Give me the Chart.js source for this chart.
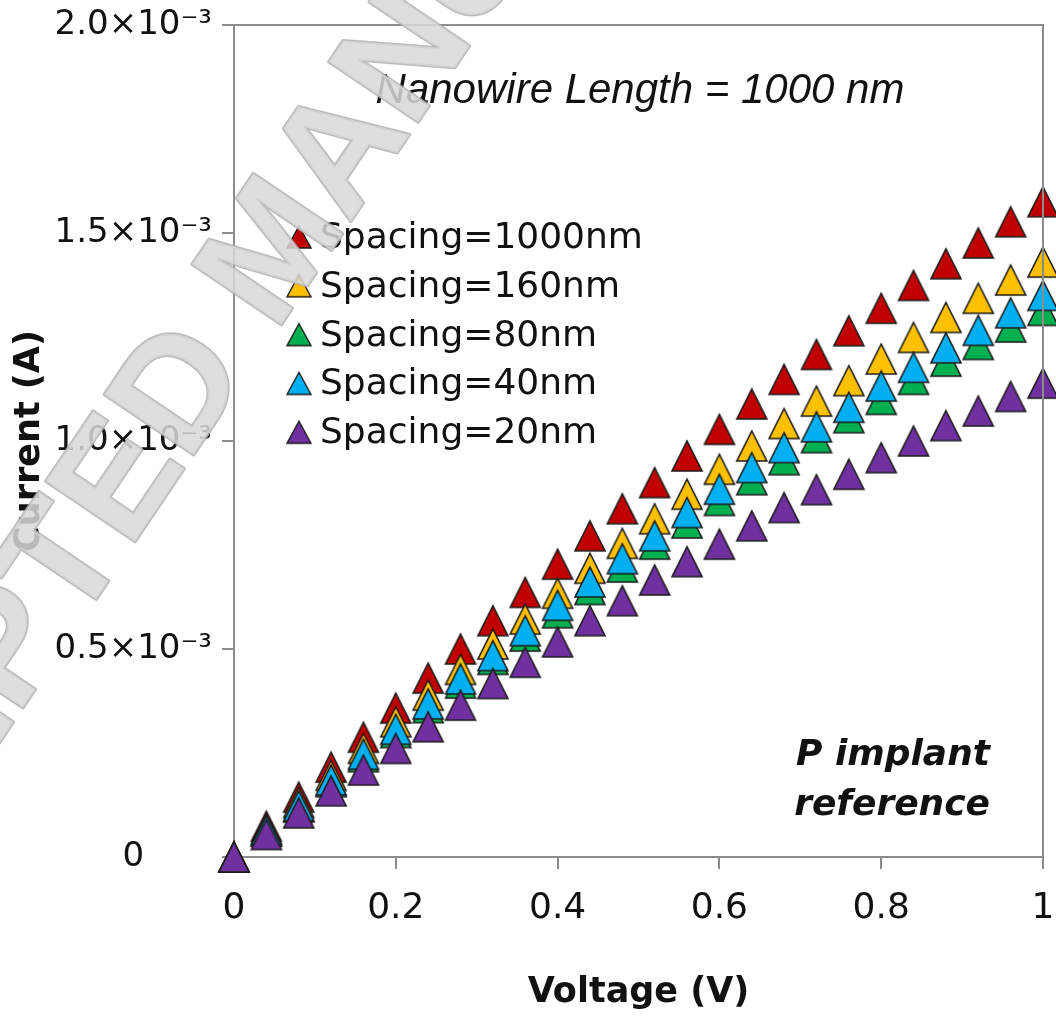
<!DOCTYPE html>
<html><head><meta charset="utf-8">
<script src="https://cdn.jsdelivr.net/npm/chart.js@4"></script>
<style>html,body{margin:0;padding:0;background:#fff}#wrap{width:1056px;height:1018px}</style>
</head><body><div id="wrap"><canvas id="c" width="1056" height="1018"></canvas></div>
<script>
// ---- data (Current in A, Voltage in V) ----
const voltage = [0,0.04,0.08,0.12,0.16,0.20,0.24,0.28,0.32,0.36,0.40,0.44,0.48,0.52,0.56,0.60,0.64,0.68,0.72,0.76,0.80,0.84,0.88,0.92,0.96,1.00];
const seriesLabels = ['Spacing=1000nm','Spacing=160nm','Spacing=80nm','Spacing=40nm','Spacing=20nm'];
const current1000nm = [0,0.074e-3,0.144e-3,0.216e-3,0.288e-3,0.358e-3,0.430e-3,0.500e-3,0.568e-3,0.636e-3,0.704e-3,0.772e-3,0.837e-3,0.900e-3,0.964e-3,1.028e-3,1.089e-3,1.148e-3,1.208e-3,1.265e-3,1.319e-3,1.374e-3,1.426e-3,1.476e-3,1.527e-3,1.575e-3];
const current160nm  = [0,0.067e-3,0.131e-3,0.196e-3,0.261e-3,0.325e-3,0.389e-3,0.451e-3,0.512e-3,0.572e-3,0.634e-3,0.694e-3,0.754e-3,0.813e-3,0.872e-3,0.932e-3,0.988e-3,1.042e-3,1.096e-3,1.145e-3,1.197e-3,1.249e-3,1.297e-3,1.343e-3,1.387e-3,1.430e-3];
const current80nm   = [0,0.062e-3,0.120e-3,0.181e-3,0.241e-3,0.299e-3,0.359e-3,0.418e-3,0.475e-3,0.531e-3,0.587e-3,0.643e-3,0.697e-3,0.752e-3,0.803e-3,0.857e-3,0.907e-3,0.955e-3,1.008e-3,1.056e-3,1.100e-3,1.148e-3,1.192e-3,1.232e-3,1.274e-3,1.314e-3];
const current40nm   = [0,0.063e-3,0.123e-3,0.185e-3,0.247e-3,0.307e-3,0.368e-3,0.428e-3,0.484e-3,0.544e-3,0.605e-3,0.661e-3,0.717e-3,0.772e-3,0.828e-3,0.884e-3,0.936e-3,0.984e-3,1.034e-3,1.081e-3,1.132e-3,1.177e-3,1.224e-3,1.266e-3,1.308e-3,1.350e-3];
const current20nm   = [0,0.054e-3,0.106e-3,0.159e-3,0.209e-3,0.261e-3,0.313e-3,0.365e-3,0.417e-3,0.468e-3,0.517e-3,0.568e-3,0.616e-3,0.666e-3,0.710e-3,0.752e-3,0.796e-3,0.840e-3,0.883e-3,0.920e-3,0.960e-3,1.000e-3,1.037e-3,1.072e-3,1.107e-3,1.139e-3];
const xTickLabels = ['0','0.2','0.4','0.6','0.8','1'];
const yTickLabels = ['0','0.5×10⁻³','1.0×10⁻³','1.5×10⁻³','2.0×10⁻³'];
const chartTitle = 'Nanowire Length = 1000 nm';
const noteLines = ['P implant','reference'];
const xAxisTitle = 'Voltage (V)';
const yAxisTitle = 'Current (A)';
const watermarkText = 'ACCEPTED MANUSCRIPT';

// ---- styles ----
const seriesColors = ['#C00000','#FFC000','#00B050','#00B0F0','#7030A0'];
const seriesValues = [current1000nm,current160nm,current80nm,current40nm,current20nm];
const AXIS = '#8c8c8c';

function makeTriangle(fill, w, h, lw){
  const pad = Math.ceil(lw) + 1;
  const c = document.createElement('canvas');
  c.width = w + 2*pad; c.height = h + 2*pad;
  const g = c.getContext('2d');
  g.beginPath();
  g.moveTo(pad + w/2, pad);
  g.lineTo(pad + w, pad + h);
  g.lineTo(pad, pad + h);
  g.closePath();
  g.fillStyle = fill; g.fill();
  g.lineWidth = lw; g.strokeStyle = '#1c1c1c'; g.lineJoin = 'miter'; g.stroke();
  return c;
}

const datasets = seriesLabels.map((lab, k) => ({
  label: lab,
  data: voltage.map((v, i) => ({x: v, y: seriesValues[k][i]})),
  pointStyle: makeTriangle(seriesColors[k], 30, 30, 1.6),
  pointRadius: 16,
  showLine: false,
  clip: false,
  order: seriesLabels.length - k
}));

const decor = {
  id: 'decor',
  afterDraw(chart){
    const {ctx, chartArea: a} = chart;
    ctx.save();
    // frame (top, right)
    ctx.strokeStyle = AXIS; ctx.lineWidth = 2;
    ctx.beginPath(); ctx.moveTo(a.left - 1, a.top); ctx.lineTo(a.right, a.top); ctx.lineTo(a.right, a.bottom); ctx.stroke();
    // title
    ctx.fillStyle = '#111';
    ctx.font = 'italic 42px "Liberation Sans", Arial, sans-serif';
    ctx.textAlign = 'center'; ctx.textBaseline = 'alphabetic';
    ctx.fillText(chartTitle, 640, a.top + 78);
    // note
    ctx.font = 'italic bold 36px "DejaVu Sans", sans-serif';
    ctx.textAlign = 'right';
    ctx.fillText(noteLines[0], 990, a.bottom - 92);
    ctx.fillText(noteLines[1], 990, a.bottom - 42);
    // legend
    ctx.font = '36px "DejaVu Sans", sans-serif';
    ctx.textAlign = 'left';
    seriesLabels.forEach((lab, k) => {
      const base = a.top + 223 + k * 48.8;
      const tri = makeTriangle(seriesColors[k], 24, 22, 1.4);
      ctx.drawImage(tri, a.left + 65 - tri.width/2, base - 11 - tri.height/2);
      ctx.fillStyle = '#111';
      ctx.fillText(lab, a.left + 86, base);
    });
    // watermark
    ctx.font = 'bold 157px "Liberation Sans", Arial, sans-serif';
    ctx.textAlign = 'left';
    ctx.rotate(-56 * Math.PI / 180);
    const pre = ctx.measureText('ACCEPTED ').width;
    const mW = ctx.measureText('M').width;
    const startX = -57 - mW / 2 - pre;
    ctx.globalAlpha = 0.85;
    ctx.lineJoin = 'round';
    ctx.lineWidth = 3;
    ctx.strokeStyle = '#b0b0b0';
    ctx.fillStyle = '#d8d8d8';
    ctx.strokeText(watermarkText, startX, 415);
    ctx.fillText(watermarkText, startX, 415);
    ctx.restore();
  }
};

new Chart(document.getElementById('c'), {
  type: 'scatter',
  data: { datasets },
  options: {
    responsive: false,
    animation: false,
    layout: { autoPadding: false, padding: { left: 0, top: 25, right: 13, bottom: 0 } },
    plugins: { legend: { display: false }, tooltip: { enabled: false } },
    scales: {
      x: {
        type: 'linear', min: 0, max: 1,
        ticks: { stepSize: 0.2, callback: (v, i) => xTickLabels[i], font: { family: '"DejaVu Sans"', size: 36 }, color: '#111', padding: 18, maxRotation: 0 },
        grid: { display: true, drawOnChartArea: false, drawTicks: true, tickLength: 12, color: AXIS, lineWidth: 2 },
        border: { display: true, color: AXIS, width: 2 },
        title: { display: true, text: xAxisTitle, font: { family: '"DejaVu Sans"', size: 35, weight: 'bold' }, color: '#111', padding: { top: 0, bottom: 4 } },
        afterFit(s){ s.height = 161; s.paddingLeft = 0; s.paddingRight = 0; }
      },
      y: {
        type: 'linear', min: 0, max: 0.002,
        ticks: { stepSize: 0.0005, callback: (v, i) => yTickLabels[i], font: { family: '"DejaVu Sans"', size: 34 }, color: '#111', padding: 10, crossAlign: 'center' },
        grid: { display: true, drawOnChartArea: false, drawTicks: true, tickLength: 12, color: AXIS, lineWidth: 2 },
        border: { display: true, color: AXIS, width: 2 },
        title: { display: true, text: yAxisTitle, font: { family: '"DejaVu Sans"', size: 35, weight: 'bold' }, color: '#111', padding: { top: 9, bottom: 0 } },
        afterFit(s){ s.width = 234; s.paddingTop = 0; s.paddingBottom = 0; }
      }
    }
  },
  plugins: [decor]
});
</script></body></html>
